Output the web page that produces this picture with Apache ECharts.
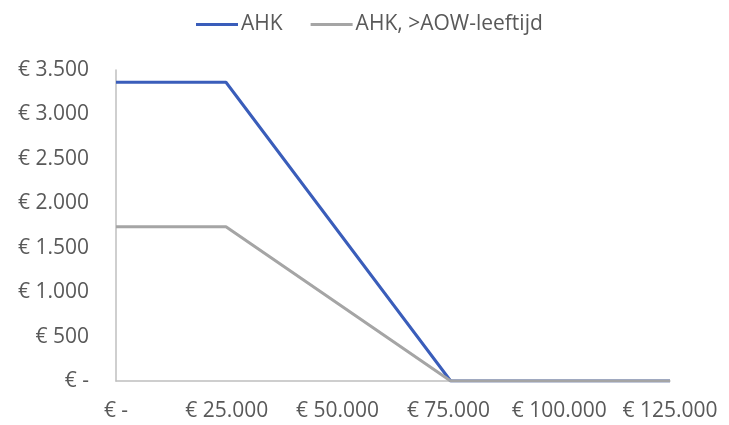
<!DOCTYPE html>
<html><head><meta charset="utf-8">
<script src="https://cdn.jsdelivr.net/npm/echarts@6/dist/echarts.min.js"></script>
<style>html,body{margin:0;padding:0;background:#fff}#c{width:729px;height:425px}</style>
</head><body><div id="c"></div>
<script>
const incomes = [0, 24812, 75518, 125000];
const ahk = [3362, 3362, 0, 0];
const ahkAow = [1735, 1735, 0, 0];
const seriesNames = ['AHK', 'AHK, >AOW-leeftijd'];

function euro(v){
  if (v === 0) return '€ -';
  return '€ ' + String(Math.round(v)).replace(/\B(?=(\d{3})+(?!\d))/g, '.');
}
const font = 'Open Sans';
const txt = '#595959';
const chart = echarts.init(document.getElementById('c'));
chart.setOption({
  animation: false,
  legend: {
    top: 9, left: 191, itemWidth: 42, itemHeight: 3, itemGap: 28,
    icon: 'rect',
    textStyle: {fontFamily: font, fontSize: 21, color: txt, padding: [0,0,0,-2]},
    data: seriesNames
  },
  grid: {left: 116, right: 59, top: 70, bottom: 44, containLabel: false},
  xAxis: {
    type: 'value', min: 0, max: 125000, interval: 25000,
    axisLine: {show: true, lineStyle: {color: '#BFBFBF', width: 1.5}},
    axisTick: {show: false}, splitLine: {show: false},
    axisLabel: {formatter: euro, fontFamily: font, fontSize: 21, color: txt, margin: 20}
  },
  yAxis: {
    type: 'value', min: 0, max: 3500, interval: 500,
    axisLine: {show: true, lineStyle: {color: '#BFBFBF', width: 1.5}},
    axisTick: {show: false}, splitLine: {show: false},
    axisLabel: {formatter: euro, fontFamily: font, fontSize: 21, color: txt, margin: 27}
  },
  series: [
    {name: seriesNames[0], type: 'line', showSymbol: false, smooth: false,
     data: incomes.map((x,i)=>[x, ahk[i]]),
     lineStyle: {color: '#3A5DBA', width: 3}, itemStyle: {color: '#3A5DBA'}},
    {name: seriesNames[1], type: 'line', showSymbol: false,
     data: incomes.map((x,i)=>[x, ahkAow[i]]),
     lineStyle: {color: '#A5A5A5', width: 3}, itemStyle: {color: '#A5A5A5'}}
  ]
});
</script></body></html>
